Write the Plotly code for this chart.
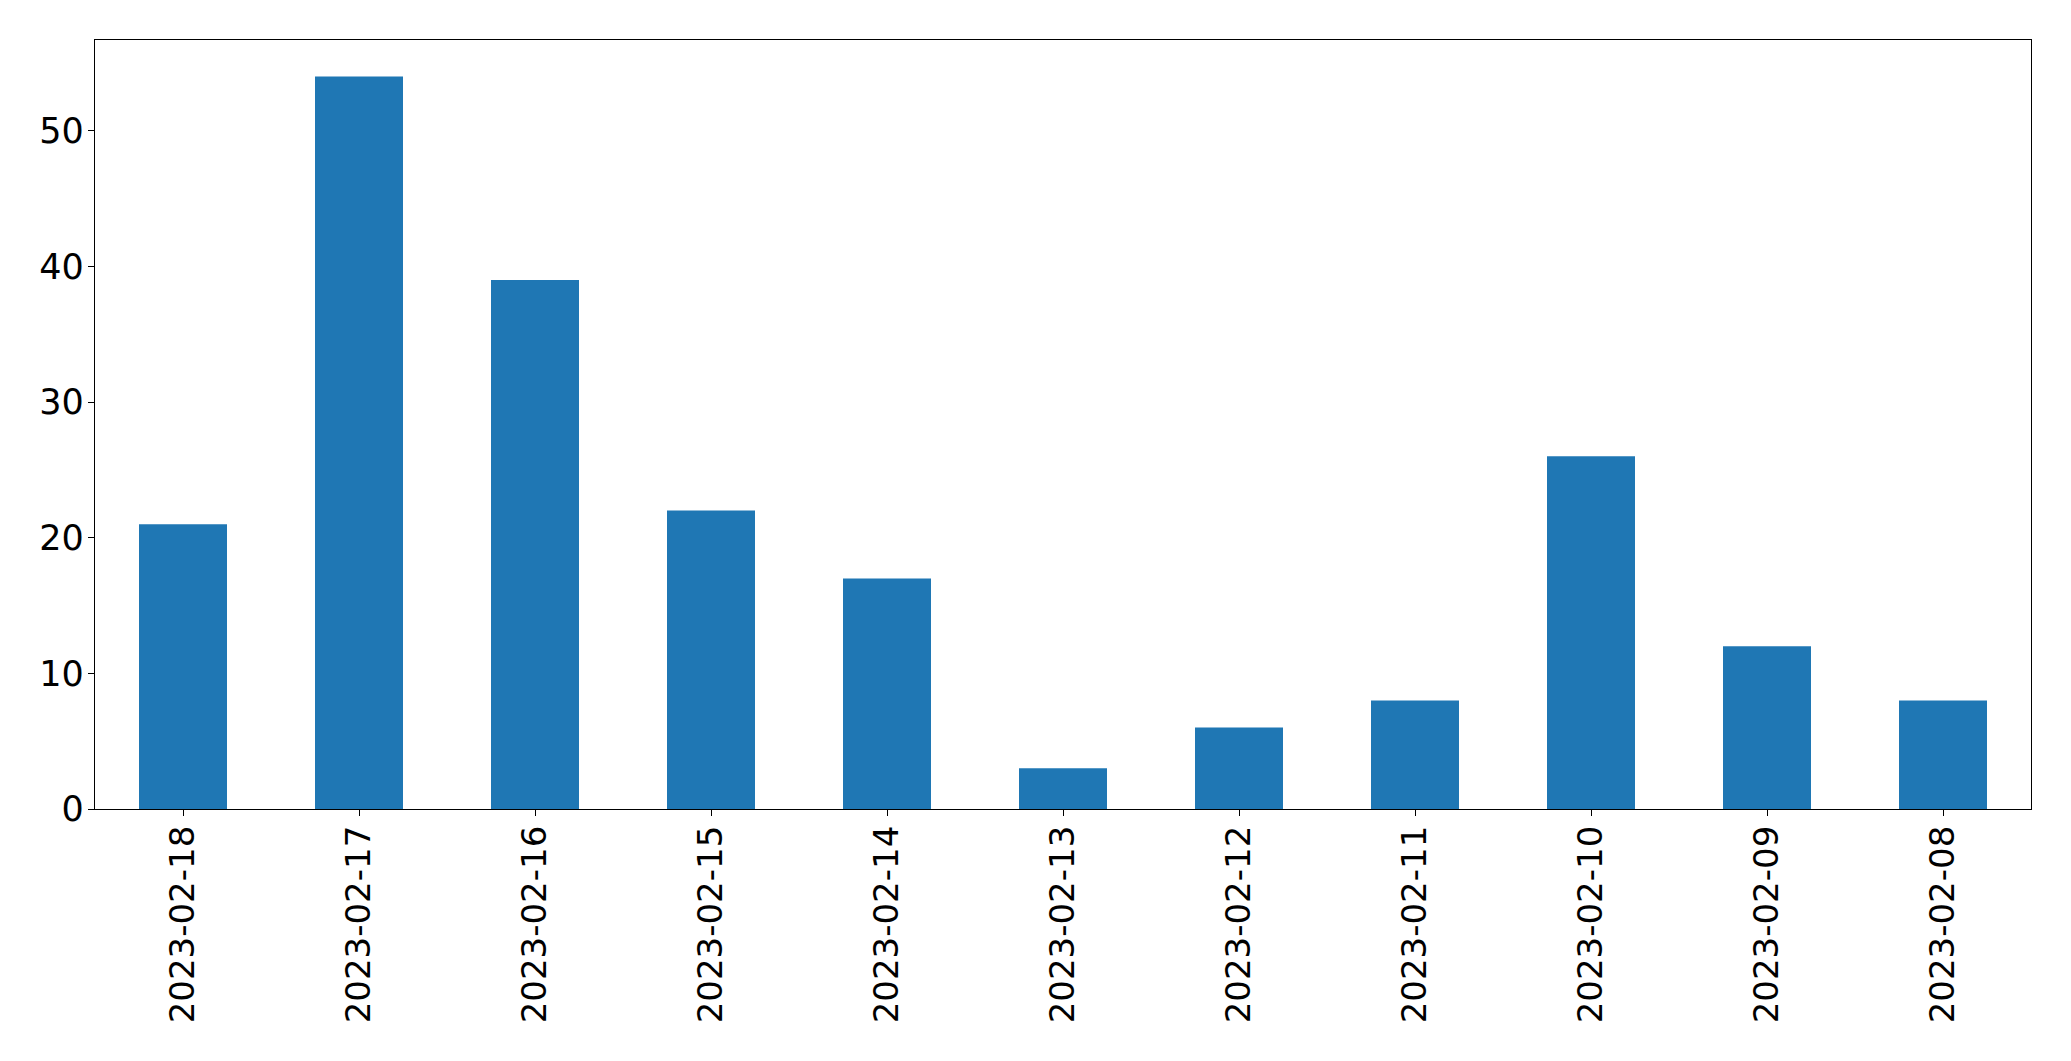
import plotly.graph_objects as go

dates = ["2023-02-18", "2023-02-17", "2023-02-16", "2023-02-15", "2023-02-14",
         "2023-02-13", "2023-02-12", "2023-02-11", "2023-02-10", "2023-02-09", "2023-02-08"]
counts = [21, 54, 39, 22, 17, 3, 6, 8, 26, 12, 8]
y_ticks = [0, 10, 20, 30, 40, 50]

fig = go.Figure(go.Bar(x=dates, y=counts, marker=dict(color="#1f77b4", line=dict(width=0)), width=0.5))

axis_common = dict(showline=True, linecolor="black", linewidth=1.3, mirror=True,
                   ticks="outside", ticklen=6, tickwidth=1.3, tickcolor="black",
                   showgrid=False, zeroline=False, automargin=False)

# page body has an 8px default margin, so the figure is made 8px smaller
fig.update_layout(
    width=2063, height=1053,
    margin=dict(l=86.5, r=39.5, t=31.5, b=252, autoexpand=False),
    plot_bgcolor="white", paper_bgcolor="white",
    showlegend=False, bargap=0.5,
    xaxis=dict(type="category", range=[-0.5, 10.5], tickangle=-90, ticklabelstandoff=-4,
               tickfont=dict(family="DejaVu Sans", size=34, color="black"), **axis_common),
    yaxis=dict(range=[0, 56.7], tickvals=y_ticks, ticklabelstandoff=-3,
               tickfont=dict(family="DejaVu Sans", size=35, color="black"), **axis_common),
)

fig.write_html("out.html")
